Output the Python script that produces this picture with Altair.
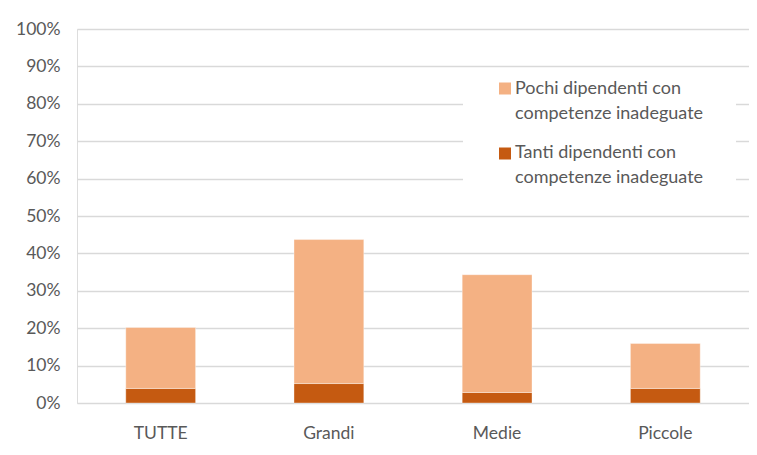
import altair as alt
import pandas as pd

categories = ["TUTTE", "Grandi", "Medie", "Piccole"]
pochi = [16.3, 38.5, 31.5, 12.0]
tanti = [3.9, 5.2, 2.8, 3.9]
series = ["Pochi dipendenti con competenze inadeguate",
          "Tanti dipendenti con competenze inadeguate"]
legend_lines = ["Pochi dipendenti con\ncompetenze inadeguate",
                "Tanti dipendenti con\ncompetenze inadeguate"]
colors = ["#F4B183", "#C55A11"]

rows = []
for c, p, t in zip(categories, pochi, tanti):
    rows.append({"cat": c, "serie": series[1], "val": t / 100, "ord": 0})
    rows.append({"cat": c, "serie": series[0], "val": p / 100, "ord": 1})
df = pd.DataFrame(rows)

leg = pd.DataFrame({"serie": series, "label": legend_lines, "idx": [0, 1]})

FONT = "Lato"
GREY = "#595959"
color_scale = alt.Scale(domain=series, range=colors)

bars = alt.Chart(df).mark_bar(stroke="white", strokeWidth=0.6, strokeOpacity=0.6).encode(
    x=alt.X("cat:N", sort=categories, title=None,
            scale=alt.Scale(paddingInner=0.585, paddingOuter=0.29),
            axis=alt.Axis(labelAngle=0, ticks=False, domain=False, labelPadding=21,
                          labelFontSize=17.5, labelColor=GREY, labelFont=FONT)),
    y=alt.Y("val:Q", stack="zero", title=None,
            scale=alt.Scale(domain=[0, 1], nice=False),
            axis=alt.Axis(format=".0%", values=[i / 10 for i in range(11)], ticks=False,
                          domain=False, labelPadding=17, labelFontSize=17.5,
                          labelColor=GREY, labelFont=FONT, gridColor="#D9D9D9",
                          gridWidth=1.3)),
    color=alt.Color("serie:N", scale=color_scale, legend=None),
    order=alt.Order("ord:Q"),
)

box = alt.Chart(leg).transform_filter("datum.idx == 0").mark_rect(color="white").encode(
    x=alt.value(386), x2=alt.value(659), y=alt.value(41), y2=alt.value(168))

layers = [bars, box]
sym_y = [59.5, 124.5]
txt_y = [59.5, 123.5]
for i in range(len(series)):
    base = alt.Chart(leg).transform_filter(f"datum.idx == {i}")
    layers.append(base.mark_square(size=144, opacity=1).encode(
        x=alt.value(428), y=alt.value(sym_y[i]),
        color=alt.Color("serie:N", scale=color_scale, legend=None)))
    layers.append(base.mark_text(align="left", baseline="middle", lineBreak="\n",
                                 lineHeight=25, font=FONT, fontSize=18,
                                 color=GREY).encode(
        x=alt.value(438), y=alt.value(txt_y[i]), text="label:N"))

chart = alt.layer(*layers).properties(
    width=672, height=374,
    autosize=alt.AutoSizeParams(type="none"),
    padding={"left": 69, "top": 21, "right": 0, "bottom": 44},
).configure_view(stroke=None).configure(background="white")

chart.save("out.html", embed_options={"renderer": "svg", "actions": False})
